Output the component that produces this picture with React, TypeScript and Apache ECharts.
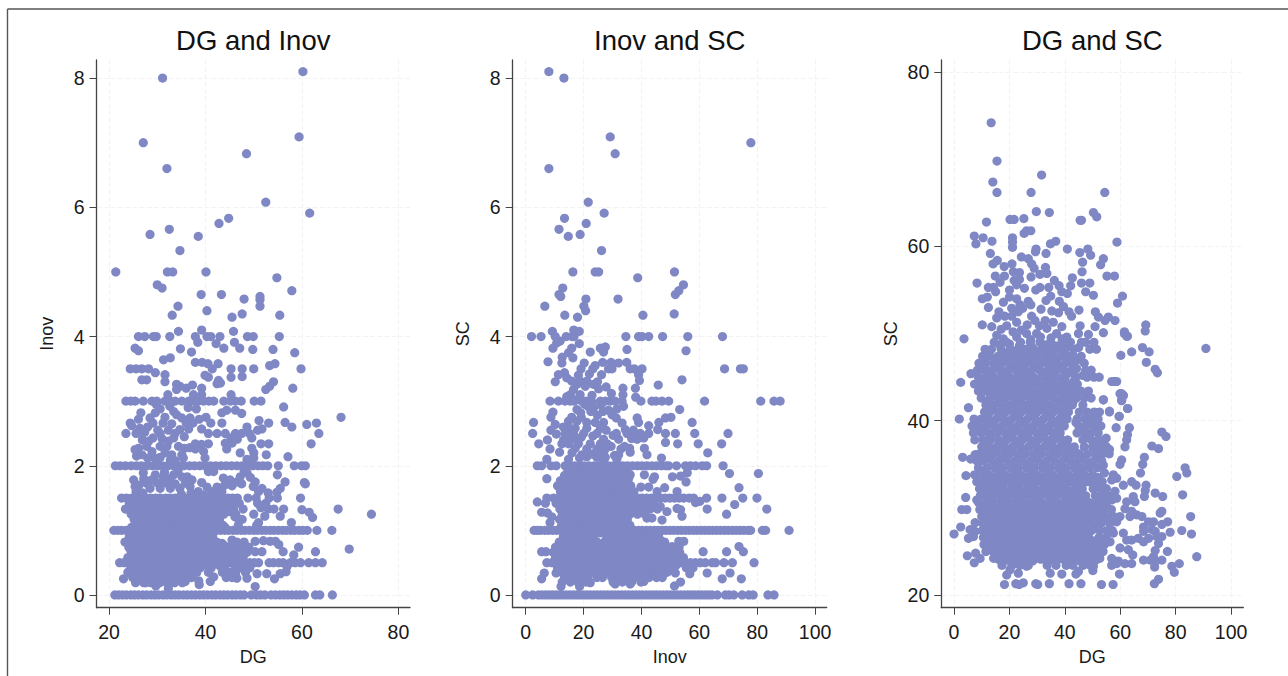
import React, { useEffect, useRef } from "react";
import * as echarts from "echarts";

type Pt = [number, number];
type Row = [number, number[]];

const titles = ["DG and Inov", "Inov and SC", "DG and SC"];
const xNames = ["DG", "Inov", "DG"];
const yNames = ["Inov", "SC", "SC"];
const dgTicks = [20, 40, 60, 80];
const pctTicks = [0, 20, 40, 60, 80, 100];
const lowYTicks = [0, 2, 4, 6, 8];
const scTicks = [20, 40, 60, 80];

const dgInovScattered: Pt[] = [
  [31.1,8],[60.2,8.1],[27.1,7],[59.4,7.09],[32,6.6],[48.5,6.83],[52.5,6.08],[61.6,5.91],[44.8,5.83],[42.8,5.75],[32.5,5.66],[28.5,5.58],[38.5,5.55],[34.7,5.33],[21.4,5],[32.1,5],[33.2,5],[40.1,5],[54.8,4.91],[57.9,4.71],[30,4.8],[31,4.75],[39.1,4.65],[43.3,4.65],[48,4.58],[51.3,4.62],[51.3,4.57],[51.3,4.47],[34.3,4.47],[33.1,4.33],[40.3,4.4],[45.5,4.3],[47.6,4.35],[55.4,4.33],[39.2,4.1],[34.4,4.08],[45.8,4.08],
  [25.4,3.82],[26.1,3.78],[34.8,3.81],[37.1,3.76],[38.4,3.91],[42.2,3.89],[43.8,3.82],[46,3.91],[47.1,3.82],[49.8,3.8],[54,3.8],[58.5,3.75],[31.3,3.64],[32.7,3.67],[37.9,3.6],[39.3,3.6],[40.5,3.58],[42.6,3.58],[53.3,3.55],[54.4,3.58],[29.6,3.44],[31.6,3.41],[39.9,3.4],[40.6,3.37],[45.3,3.37],[47.6,3.38],[26.8,3.33],[27.8,3.33],[31.6,3.3],[42.7,3.32],[42.4,3.27],[43.1,3.28],[54.1,3.3],[53.3,3.23],[52.5,3.18],[58.1,3.2],[34,3.26],[34.7,3.23],[36,3.2],[37.3,3.25],[39.2,3.2],[34,3.18],[32.2,3.1],[37.5,3.1],[39.2,3.1],[45.3,3.1],
  [38.1,2.88],[56.2,2.91],[30.6,2.88],[33.4,2.84],[29.6,2.82],[43.4,2.82],[44.4,2.86],[46.2,2.86],[47.5,2.81],[34,2.79],[28.5,2.74],[26.1,2.72],[35.1,2.74],[36.8,2.74],[38.7,2.72],[40.1,2.75],[68.1,2.75],[29.1,2.66],[31.2,2.66],[24.4,2.66],[36,2.66],[41.1,2.66],[43.4,2.66],[51.1,2.7],[53.1,2.66],[56.5,2.67],[57.9,2.6],[61,2.64],[63,2.66],[24.7,2.62],[26.4,2.58],[36.5,2.57],[39.2,2.57],[48.6,2.6],[51.7,2.57],[50.8,2.55],[32.3,2.55],[34.7,2.56],[29.1,2.43],[33.4,2.43],[45.3,2.43],[46.6,2.41],[49.6,2.43],[28.2,2.38],[32.3,2.38],[37.9,2.34],[39.2,2.33],[40.6,2.34],[44.1,2.35],[45.5,2.35],[51.5,2.34],[53.1,2.34],[61.9,2.34],[26.1,2.27],[27.8,2.3],[30.6,2.3],[32,2.3],[35.6,2.27],[37.9,2.26],[44.4,2.26],[49.6,2.27],[28.9,2.22],[31.6,2.2],[33,2.17],[35.1,2.17],[39.6,2.22],[47.2,2.2],[50,2.2],[52.6,2.17],[25.7,2.15],[26.8,2.17],[29.1,2.14],[30.6,2.13],[39.9,2.12],[57.1,2.14],[48.6,2.1],[50,2.12],[35.4,2.12],[32.7,2.09],[29.9,2.07],
  [40.6,1.91],[41.7,1.91],[54.9,1.86],[25.1,1.78],[27.1,1.89],[29.6,1.86],[31.3,1.83],[33.4,1.86],[35.1,1.83],[48.6,1.89],[47.2,1.83],[43.7,1.81],[45.1,1.78],[46.5,1.75],[50.3,1.75],[56.5,1.75],[60.5,1.74],[60.7,1.72],[39.2,1.74],[27.8,1.73],[29.9,1.74],[32,1.73],[33.7,1.72],[35.8,1.73],[45.5,1.69],[49.9,1.68],[51.7,1.65],[55.5,1.65],[28.5,1.65],[30.6,1.65],[32.7,1.65],[34.7,1.65],[36.8,1.68],[40.3,1.67],[42.4,1.67],[54.8,1.59],[51,1.6],[53,1.58],[38.5,1.6],[41.2,1.6],[43.4,1.6],[25.6,1.6],[27,1.58],
  [67.5,1.33],[74.4,1.25],[60,1.32],[61.5,1.28],[62.2,1.2],[56.2,1.33],[55.5,1.22],[57.8,1.12],[51.5,1.35],[53,1.33],[54.2,1.33],[50,1.25],[52.3,1.22],[51,1.12],[47.8,1.33],
  [50.3,0.83],[52,0.84],[53.4,0.83],[54.5,0.83],[55.2,0.78],[56.1,0.67],[45.5,0.85],[43.4,0.8],[59.3,0.74],[58.3,0.62],[62.8,0.67],[69.8,0.71],[51.7,0.67],[50.3,0.67],[50.7,0.33],[52.7,0.33],[54.3,0.25],[55.5,0.33],[56.7,0.36],[56.9,0.44],[50.3,0.13],[38.7,0.16],[35.8,0.21],[32.3,0.1],[29.7,0.14],[23,0.25],[41,0.21],[41.7,0.28],[48.6,0.26],[46.5,0.26],[38.6,0.22],[32.4,0.17],[27.6,0.19],
];
const dgInovExtra: Pt[] = [
  [25.4,2.25],[26.9,2.4],[27.4,2.52],[28,2.6],[30.1,2.55],[29.8,2.95],[31.6,2.75],[32.6,2.92],[33,2.65],[35.6,2.45],[34.4,2.3],[36.4,2.9],[37.4,2.66],[26.6,2.82],[36.7,2.28],[31,2.42],[28,2.12],[33.7,2.08],[27.2,1.8],[28.8,1.78],[30.8,1.74],[31.5,1.9],[32.6,1.8],[34.3,1.92],[36.2,1.83],[37.2,1.78],[26.2,1.7],[25.4,1.68],[44,1.7],[47.5,1.72],[48,1.92],[49.3,1.82],[39.5,1.55],[42,1.55],[44,1.4],[35.4,1.38],[35,1.56],[37,1.58],
  [24.9,1.46],[26.7,1.46],[28.3,1.46],[30,1.45],[31.6,1.46],[33.3,1.46],[35.1,1.45],[37.3,1.46],[39,1.46],[40.6,1.46],[42.4,1.46],[25.7,1.38],[27.4,1.38],[29.1,1.38],[30.7,1.37],[32.4,1.38],[34,1.38],[37,1.37],[38.6,1.38],[40.3,1.38],[42,1.37],[43.5,1.38],[24.5,1.29],[26.2,1.29],[27.9,1.29],[29.5,1.29],[31.2,1.28],[32.8,1.29],[34.5,1.29],[36.2,1.29],[37.8,1.28],[39.5,1.29],[41.2,1.29],[43,1.29],[45,1.29],[25.4,1.21],[27.1,1.21],[28.8,1.21],[30.4,1.2],[32,1.21],[33.8,1.21],[35.4,1.21],[37.1,1.21],[38.7,1.2],[40.4,1.21],[42,1.21],[46.1,1.21],[26.2,1.12],[27.9,1.12],[29.6,1.13],[31.3,1.12],[33,1.12],[34.6,1.13],[36.3,1.12],[38,1.12],[39.9,1.12],[42.6,1.12],[24.7,1.05],[26.6,1.05],[28.3,1.05],[30,1.05],[31.9,1.05],[34.3,1.05],[36,1.05],[37.6,1.05],[40.5,1.05],[44,1.05],
  [25,0.95],[26.7,0.95],[28.5,0.95],[30.2,0.94],[31.2,0.95],[33,0.95],[34.7,0.95],[36.4,0.94],[38,0.95],[39.2,0.95],[24.4,0.86],[26,0.86],[27.7,0.87],[29.3,0.86],[31,0.86],[32.6,0.86],[34.2,0.87],[35.9,0.86],[37.5,0.86],[39.3,0.86],[41.2,0.86],[24.9,0.78],[26.6,0.78],[28.2,0.78],[29.9,0.78],[31.6,0.77],[33.2,0.78],[34.9,0.78],[36.6,0.78],[38.2,0.78],[39.9,0.78],[41.5,0.77],[44,0.76],[47,0.78],[24.5,0.7],[26.1,0.7],[27.8,0.7],[29.5,0.7],[31.2,0.7],[32.9,0.7],[34.6,0.7],[36.2,0.7],[37.9,0.7],[39.5,0.7],[41.2,0.7],[42.9,0.7],[44.5,0.7],[46,0.7],[48,0.7],[25.2,0.62],[26.9,0.62],[28.6,0.62],[30.2,0.62],[31.9,0.62],[33.6,0.62],[35.2,0.62],[36.9,0.62],[38.5,0.62],[40.2,0.62],[41.9,0.62],[43.5,0.62],[45.2,0.62],[46.9,0.62],[24.8,0.54],[26.5,0.54],[28.1,0.54],[29.8,0.54],[31.5,0.54],[33.2,0.54],[34.8,0.54],[36.5,0.54],[38.1,0.54],[39.8,0.54],[41.5,0.54],[43.2,0.54],[45,0.54],[46.9,0.54],[25.2,0.46],[26.9,0.46],[28.5,0.46],[30.1,0.46],[31.8,0.46],[33.5,0.46],[35.2,0.46],[36.8,0.46],[38.5,0.46],[40.2,0.46],[43,0.45],[46,0.46],[25,0.38],[26.6,0.39],[28.2,0.38],[29.9,0.39],[31.5,0.38],[33.2,0.39],[34.8,0.38],[36.5,0.38],[38.2,0.38],[25.6,0.31],[27.2,0.31],[28.9,0.31],[30.6,0.31],[32.2,0.31],[33.8,0.31],[35.4,0.31],[37,0.32],[26.4,0.23],[28.1,0.24],[29.8,0.24],[31.4,0.23],[33,0.24],[34.6,0.23],
];
const dgInovRows: Row[] = [
  [4,[26.1,27.4,29.2,29.8,32.6,37.9,40.3,41.1,43,48.7,49.9,55.3]],
  [3.5,[24.4,25.6,26.8,28.2,41.4,45.3,47.6,50,59.8]],
  [3,[23.5,24.5,25.4,27.1,28.9,29.9,31.6,32.7,33.7,35.1,36.5,37.5,38.5,39.6,40.7,41.7,43.8,45.2,46.2,47.4,50.1,51.5]],
  [2.5,[23.5,25.6,26.8,30.6,33.7,40.6,42.4,44.1,46.2,47.5,49.1,63.5]],
  [2,[21.3,22.3,23.4,24.6,25.7,26.7,27.9,29,30.1,31.1,32.2,33.4,34.4,35.5,36.7,37.7,38.8,39.9,41,42.1,43.2,44.3,45.4,46.5,47.6,48.7,49.8,50.9,51.9,52.9,55.1,58.4,59.9,60.7]],
  [1.5,[22.6,23.6,24.7,25.6,26.6,27.7,28.6,29.7,30.6,31.8,32.7,33.7,34.8,35.6,36.7,37.8,38.7,39.8,40.7,41.7,42.8,43.7,44.7,45.6,46.6,48.8,50.5,53.2,54.9,59.7]],
  [1.42,[24.2,25.8,27.5,29,30.7,32.3,33.9,36.7,38.2,39.9,41.4,44,45.4,47,50.8,52.5]],
  [1.33,[23.4,25,26.6,28.2,29.8,31.4,33,34.6,36.2,37.8,39.4,41,42.6,44.2,45.8]],
  [1.25,[24.6,26.1,27.7,29.4,31,32.6,34.2,35.8,37.4,39,40.6,42.2,43.8,46.3]],
  [1.17,[25.2,26.9,28.5,30,33.1,34.7,36.4,38,39.6,41.2,42.9,46.9,47.6]],
  [1.08,[25.6,27.4,29.1,30.9,33.7,35.2,36.9,38.5,41.9,43.6,46.8,50.6]],
  [1,[21,21.8,22.6,23.5,24.4,25.2,26,26.9,27.7,28.6,29.5,30.3,31.1,32,32.9,33.7,34.5,35.4,36.3,37.1,38,38.8,39.7,40.5,41.4,42.3,43.1,44,44.8,45.7,46.5,47.4,48.2,49.1,50,50.8,51.7,52.5,53.4,54.2,55.1,56,56.8,57.7,58.5,59.4,60.2,61.1,63.1,66.2]],
  [0.9,[24.2,25.8,27.3,29.1,30.4,32,33.8,35.4,37,38.4,39.9,41.5]],
  [0.82,[23.3,24.9,26.5,28.1,29.7,31.3,32.8,34.4,36,37.6,39.2,40.7,42.3,46.5,48]],
  [0.74,[24.1,25.7,27.3,28.9,30.5,32.1,33.7,35.3,36.9,38.5,40.1,41.7,43.3,44.9,46.6,47.9,49]],
  [0.66,[24.6,26.2,27.8,29.4,31,32.6,34.2,35.8,37.4,39,40.6,42.2,43.8,45.4,47,48.6]],
  [0.58,[23.9,25.5,27.1,28.7,30.3,31.9,33.5,35.1,36.7,38.3,39.9,41.5,43.1,44.8,46.3,47.8]],
  [0.5,[22.2,23.1,24,24.9,25.8,26.7,27.6,28.5,29.4,30.3,31.2,32.1,33,33.9,34.8,35.7,36.6,37.5,38.4,39.3,40.2,41.1,42,42.9,43.8,44.7,45.6,46.5,47.4,48.3,49.2,50.1,51,53.2,54.1,55.2,56.1,57.6,58.6,59.7,61.4,62.8,64.2]],
  [0.42,[24.5,26.1,27.7,29.3,30.9,32.5,34.1,35.7,37.3,38.9,41.2,44,47.5,49.2]],
  [0.35,[23.9,25.4,27,28.6,30.2,31.8,33.4,35,36.6,38.2,40.6,43.5,45,46.3,48.3]],
  [0.27,[24.9,26.3,27.9,29.6,31,32.8,34.4,36,37.1,44.3,45.5]],
  [0.19,[25.5,27.2,28.7,30.5,32,33.6,35.2]],
  [0,[21.2,22,22.8,23.6,24.5,25.3,26.1,27,27.8,28.7,29.5,30.3,31.2,32,32.9,33.7,34.5,35.4,36.2,37.1,37.9,38.8,39.6,40.4,41.3,42.1,43,43.8,44.6,45.5,46.3,47.2,48,49.5,50.6,51.4,52.3,53.6,54.5,55.4,56.2,57,57.9,58.8,59.6,60.5,62.8,63.7,66.3]],
];

const inovScScattered: Pt[] = [
  [8,8.1],[13.2,8],[29.2,7.09],[77.8,7],[30.9,6.83],[8,6.6],[21.6,6.08],[27.1,5.91],[13.4,5.83],[20.9,5.75],[11.5,5.66],[14.7,5.55],[18.8,5.58],[26.2,5.33],[16.3,5],[24,5],[25.2,5],[51.4,5],[38.7,4.91],[54.5,4.8],[12.8,4.75],[52.9,4.71],[51.7,4.65],[11.5,4.65],[12.1,4.62],[20.8,4.58],[31.9,4.58],[6.6,4.47],[20.1,4.47],[20.7,4.4],[51.3,4.35],[13.5,4.33],[40.5,4.33],[17.9,4.3],[16.6,4.1],[9.2,4.08],[18.5,4.08],
  [10.7,3.9],[11.9,3.93],[9.4,3.82],[15.9,3.82],[18.5,3.89],[22.3,3.76],[25.8,3.82],[27.5,3.84],[26.9,3.76],[35,3.8],[55.4,3.78],[12.6,3.68],[16.3,3.67],[7.7,3.61],[12.5,3.59],[20.2,3.59],[26.6,3.6],[32.1,3.59],[34.9,3.6],[24,3.55],[11.3,3.41],[13.4,3.44],[18.2,3.4],[26.2,3.41],[39,3.41],[14.2,3.36],[10.2,3.3],[15.9,3.31],[18.8,3.31],[21.1,3.31],[39.3,3.32],[54,3.33],[17.7,3.26],[20.6,3.23],[23.4,3.26],[25.2,3.19],[27.8,3.22],[33.6,3.2],[37.9,3.2],[45.8,3.25],[16.5,3.18],[15.4,3.1],[14.2,3.07],[33.6,3.1],[22.9,3.09],
  [33.8,2.92],[23.4,2.89],[17.7,2.87],[53.2,2.87],[26.7,2.84],[28.6,2.86],[9.4,2.83],[22.5,2.84],[8.7,2.75],[15.9,2.75],[29.8,2.79],[38.5,2.74],[48.3,2.74],[50.2,2.75],[2.7,2.67],[57.5,2.67],[14.8,2.69],[17.7,2.69],[21.1,2.67],[24,2.67],[26.9,2.67],[31.3,2.74],[39,2.67],[46,2.67],[10.2,2.64],[42.5,2.62],[13,2.6],[17.1,2.58],[21.1,2.58],[25.8,2.58],[33.3,2.66],[8.7,2.55],[45.6,2.56],[34.4,2.56],
  [7.5,2.4],[17.1,2.41],[26.9,2.41],[32.1,2.41],[38.5,2.41],[40.8,2.43],[48.3,2.36],[4.5,2.34],[12.5,2.34],[14.8,2.34],[18.2,2.34],[22.3,2.34],[25.8,2.34],[28.1,2.34],[52.5,2.34],[59.6,2.34],[67.7,2.34],[8.4,2.26],[17.1,2.27],[21.1,2.26],[24.6,2.26],[27.5,2.26],[32.9,2.26],[35.9,2.27],[41,2.27],[11.7,2.21],[36.1,2.21],[26.9,2.2],[32.1,2.17],[41.9,2.17],[62.9,2.2],[19.4,2.17],[21.1,2.14],[24.6,2.13],[27.5,2.13],[7.3,2.1],[14.8,2.1],[46.9,2.12],[31.5,2.1],[26.9,2.09],
  [80.4,1.88],[70.4,1.88],[7.3,1.8],[41,1.86],[44.5,1.83],[44,1.79],[55.8,1.89],[50.7,1.83],[53.5,1.84],[29.8,1.89],[32.7,1.89],[36.1,1.86],[35.6,1.81],[16.5,1.89],[55.4,1.75],[73.7,1.66],[48,1.66],[39.8,1.67],[42.5,1.67],[52.3,1.6],[45.4,1.6],[11.3,1.68],
  [4,1.44],[58.7,1.43],[60.2,1.45],[72.2,1.4],[62.7,1.33],[83.3,1.33],[69.4,1.25],[53.5,1.32],[54,1.22],[46.5,1.37],[52.3,1.34],[48.8,1.29],[5.5,1.28],[7.5,1.27],[9,1.21],[8.4,1.12],[47.1,1.16],[41.9,1.19],[43.6,1.19],
  [54.6,0.83],[52.9,0.83],[50.6,0.75],[46.5,0.85],[5.5,0.67],[7,0.67],[61.3,0.67],[69.4,0.67],[73.7,0.75],[75.2,0.67],[6.4,0.34],[5.5,0.25],[10.5,0.34],[62.7,0.34],[56.7,0.33],[51.7,0.34],[70.6,0.34],[67.9,0.25],[74.5,0.25],[53.5,0.2],[51.4,0.14],[40.8,0.21],[36.1,0.17],[30.9,0.17],[22.3,0.19],[18.6,0.13],[12.2,0.13],
];
const inovScExtra: Pt[] = [
  [19,2.82],[20.4,2.95],[24.8,2.78],[26,2.94],[31.5,2.88],[27.8,2.55],[30.2,2.47],[23.2,2.46],[19.2,2.44],[15.6,2.46],[13.1,2.4],[10.6,2.49],[16,2.2],[18.6,2.12],[23,2.18],[29.5,2.3],[30.7,2.16],[34.2,2.3],[37.2,2.55],[36.6,2.42],[15.2,2.58],[19.2,2.75],[23,2.98],[21.5,2.92],[18.8,3.1],[17.4,3.02],[29.6,3.12],[24.8,3.3],[22,3.42],[29.5,3.6],[14.8,3.75],[38,3.06],
  [38.8,1.42],[40.5,1.3],[43,1.43],[36,0.95],[40,0.9],[47,0.78],[50,0.6],[52,0.46],[46,0.95],[48.8,0.7],[14.5,0.95],[20,0.96],[25.6,0.96],[31,0.95],
];
const inovScRows: Row[] = [
  [4,[2,5.3,10.2,14,16,16.7,34.6,39,40.2,42.5,47.3,56,68]],
  [3.5,[19.1,23.2,28.6,29.8,36.1,37.5,40.2,68.7,74.2,75.2]],
  [3,[8.4,11.3,13.6,15.4,16.7,19.4,20.9,25.8,27.5,29.2,30.9,33.3,39.8,43.6,45,47.1,49.4,61.8,81.2,85.8,87.9]],
  [2.5,[2.4,13.6,16.5,20,24.6,31.3,35,37.3,39.6,42.5,48.3,51.7,58.4,69.9]],
  [2,[4,5.5,8.7,10.5,13.6,15.3,16.9,18.6,20.2,21.9,23.6,25.2,26.9,28.6,30.3,31.9,33.6,35.2,36.9,38.6,40.2,41.9,43.6,45.2,46.9,48.5,49.4,52.1,55.2,56.9,58.7,61,62.5,68.2]],
  [1.93,[14.6,17.2,19.8,22.4,25,27.6,30,35]],
  [1.85,[13.4,16,18.6,21.2,23.8,26.4,29,31.6,34]],
  [1.77,[12,14.6,17.2,19.8,22.4,25,27.6,30.2,32.8,35.3]],
  [1.69,[11,13.3,15.9,18.5,21.1,23.7,26.3,28.9,31.5,34.1,36.3]],
  [1.6,[12,14.6,17.2,19.8,22.4,25,27.6,30.2,32.8,35.4,37.4]],
  [1.5,[7.3,9.6,11.5,13,14.6,16.2,17.8,19.4,21,22.6,24.2,25.8,27.4,29,30.6,32.2,33.8,35.4,37,38.6,40.2,41.8,43.4,45,46.6,48.2,49.8,51.4,53,54.6,56.5,58,62.5,67.8,75,79.9]],
  [1.42,[6.8,10.5,13,15.6,18.2,20.8,23.4,26,28.6,31.2,33.8,36.4,39,41.6,44.2]],
  [1.33,[11.8,14.4,17,19.6,22.2,24.8,27.4,30,32.6,35.2,37.8,40.4,43,45.5]],
  [1.25,[12.6,15.2,17.8,20.4,23,25.6,28.2,30.8,33.4,36,38.6,41.2]],
  [1.17,[11.7,14.3,16.9,19.5,22.1,24.7,27.3,29.9,32.5,35.1]],
  [1.08,[12.4,15,17.6,20.2,22.8,25.4,28,30.6,33.2,36]],
  [1,[2.9,4,5.2,6.6,7.9,9.3,10.6,12,13.3,14.7,16,17.4,18.7,20.1,21.4,22.8,24.1,25.5,26.8,28.2,29.5,30.9,32.2,33.6,34.9,36.3,37.6,39,40.3,41.7,43,44.4,45.7,47.1,48.4,49.8,51.1,52.5,53.8,55.2,56.5,57.9,59.2,60.6,61.9,63.3,64.6,66,67.3,68.7,70,71.4,72.7,74.1,75.4,76.8,77.7,81.8,82.9,91]],
  [0.9,[13,15.6,18.2,21,23.4,28,31,33.2,36,38.6,42,44.5]],
  [0.82,[11.6,14.2,16.8,19.4,22,24.6,27.2,29.8,32.4,35,37.6,40.2,42.8,45.6,48]],
  [0.74,[10.3,12.9,15.5,18.1,20.7,23.3,25.9,28.5,31.1,33.7,36.3,38.9,41.5,44.1,46.7,49.3,53]],
  [0.66,[9.5,11.6,14.2,16.8,19.4,22,24.6,27.2,29.8,32.4,35,37.6,40.2,42.8,45.4,48,50.6,53.2]],
  [0.58,[10.3,12.9,15.5,18.1,20.7,23.3,25.9,28.5,31.1,33.7,36.3,38.9,41.5,44.1,46.7,49.3,51.9,54.5]],
  [0.5,[7.3,9,10.8,12.4,14,15.7,17.3,19,20.6,22.3,23.9,25.6,27.2,28.9,30.5,32.2,33.8,35.5,37.1,38.8,40.4,42.1,43.7,45.4,47,48.7,50.3,52,53.6,55.3,56.9,58.6,60.3,62,64.4,65.6,68.5,71.4,78.9]],
  [0.42,[11,13.4,16,18.6,21.2,23.8,26.4,29,31.6,34.2,36.8,39.4,42,44.6,47.2,49.8,55.5,57.8]],
  [0.35,[12.4,15,17.6,20.2,22.8,25.4,28,30.6,33.2,35.8,38.4,41,43.6,46.2,48.8]],
  [0.27,[13.4,16,18.6,21.4,24.6,26.5,29.7,32.1,34.7,37.4,40,42.6,45.2,47.2]],
  [0.2,[12.6,15.4,18,20.8,30.2,33.4,36.6,39.8]],
  [0,[0,2.4,4.4,5.6,6.8,8,9.2,10.4,11.6,12.8,14,15.2,16.4,17.6,18.8,20,21.2,22.4,23.6,24.8,26,27.2,28.4,29.6,30.8,32,33.2,34.4,35.6,36.8,38,39.2,40.4,41.6,42.8,44,45.2,46.4,47.6,48.8,50,51.2,52.4,53.6,54.8,56,57.2,58.4,59.6,60.8,62,63.2,64.4,66.2,69,70.3,71.9,74.8,77.1,78.6,83.7,85.8]],
];

const dgScScattered: Pt[] = [
  [13.4,74.2],[15.5,69.8],[14,67.4],[15.5,66.2],[31.6,68.2],[27.8,66.2],[54.4,66.2],[29.7,64],[34.4,63.9],[50.3,63.9],[51.5,63.4],[46,63],[45.5,63],[20.2,63.1],[21.7,63.1],[25.2,63.2],[11.7,62.8],[26.2,61.8],[27.7,61.8],[25.3,61.5],[7.3,61.2],[10.5,61],[7.9,60.3],[13.7,60.6],[21.1,61],[21.1,60.5],[21.1,59.9],[58.8,60.5],[36.7,60.6],[34.8,60.3],[29.6,59.7],[29.4,59.4],[40.9,59.7],[48.3,59.7],[45.4,59.3],[49.3,59],[33.2,59.2],[13.1,59.2],[24.3,58.8],[26.8,58.6],[15.6,58.4],[14.1,58],[20.9,58],[53.9,58.6],[46.4,58.2],[52.9,57.9],[28,58],[18.1,57.7],[28.9,57.5],[33,57.6],[46.2,57.1],[21.4,57.1],[23.6,57],[31,56.8],[33.5,56.9],[14.9,56.6],[18.2,56.6],[27.8,56.5],[55.2,56.6],[57.9,56.6],[42.7,56.4],[21.7,56.1],[23.6,56.2],[36.2,56.1],[8.3,55.8],[16.6,55.9],[46,55.8],[49,55.8],[22.6,55.6],[12.4,55.3],[14.2,55.3],[31,55.3],[34.2,55.3],[37.9,55.5],[42.1,55.5],[25.4,55.2],[29.5,55],[15,54.8],[20,55],[38.9,54.8],[40.9,54.6],[47.5,54.8],[50.3,54.4],[60.8,54.3],[34.9,54.3],[33.2,53.8],[10.2,54],[12,54.2],[20,54.2],[22.6,54],[59,53.5],[17.8,53.6],[26.8,53.7],[27.7,53.3],[38,53.7],[12.4,53],[23.8,53.3],[20.8,52.9],[31.4,52.8],[39.5,53.1],[45.1,52.7],[16.2,52.5],[23.2,52.5],[35.3,52.6],[37.7,52.4],[41.5,52.5],[51,52.5],[42.4,52],[28,52],[20.8,52],[15.4,51.8],[55.7,51.9],[52.1,51.9],[54.5,51.5],[58.1,51.5],[29.2,51.5],[32.9,51.5],[22.6,51.3],[10.2,51],[69.2,51],[45.5,50.9],[50.9,50.8],[38.9,50.8],[13.6,50.8],[19,50.9],[69,50.3],[53.9,50.1],[44.9,50],[48.5,49.9],[61.5,50],[62.3,49.7],[3.6,49.4],[15.4,49.8],[26.2,50],[29.8,50],[33.5,50.6],[37,50],[40.7,49.6],[17.8,49.4],[22.6,49.6],
  [90.9,48.3],[68,48.4],[70.4,47.9],[64.1,47.9],[60.2,47.5],[69.4,46.7],[72.6,45.9],[73.4,45.5],[57.8,44.5],[58.7,44.5],[60.5,43.1],[61.1,42.9],[60.5,42.3],[62.6,41.4],[53.9,42.4],[56.1,41],[59.6,40.5],[61.5,50.2],[62.6,49.7],[2.4,44.4],[5.2,41.5],[1.9,40.2],[0,27],[2.4,27.8],[2.8,29.8],[4.6,29.8],[4.2,31.2],[8.2,30.9],[4.3,33.7],[3.1,35.8],[6,35.6],[7.6,36.1],[6.1,45.4],[7.6,28.3],[5.8,27.5],[5.2,26.5],[7.6,27.3],[7,26.7],[4.8,24.5],[7.8,24.8],[9.4,24.2],[7.3,23.7],
  [18.2,21.2],[22.3,21.3],[23.5,21.2],[25,21.4],[29.5,21.3],[30.2,21.2],[34.4,21.3],[41.5,21.3],[45.8,21.3],[53.2,21.2],[57.4,21.2],[72.3,21.3],[73.8,21.8],[79.5,22.6],[78.6,23.3],[81.3,23.6],[72.4,23.2],[87.6,24.4],[77,25],[82.2,27.4],[85.7,27],[85.4,29],[83.4,34.6],[84,34],[80.4,33.6],[82.5,31.5],
  [75,38.7],[76.5,38.2],[71.4,37.1],[73.8,36.8],[68.7,35.8],[68.1,35],[67.3,34],[63.3,39.2],[62.6,38.4],[62.3,37.8],[61.7,37],[60.5,35.5],[59.9,35],[57.5,33.8],[58.7,33.4],[56.9,33.2],[64.1,33],[65.7,32.6],[61.1,32.6],[69.3,32.6],[69,32],[68.7,31.3],[72.6,31.7],[75.3,31.3],[58.1,31.9],[58.7,31.1],[56.9,30.9],[64.7,31.3],[62.3,30.7],[65.3,30.7],[75,29.6],[74.4,29.4],[61.7,29.9],[64.1,29.6],[63.5,29],[65.9,29.2],[67.8,29],[59.9,29],[58.7,28.4],[68.4,27.8],[70.2,28.4],[72,28.4],[77.1,28.4],[75,28.1],[71.4,27.5],[72.6,27.3],[78,27.2],[68.4,27.3],[61.1,27.1],[57.5,27.1],[75,26.7],[73.2,26.7],[70.2,26.5],[66.5,26.5],[68.4,26.1],[62.3,26.3],[64.1,26.3],[56.3,26.1],[73.8,25.9],[59.9,25.4],[62.9,25.2],[72.6,25.1],[64.5,24.6],[72,24.4],[68.4,24],[70.8,24],[75,24],[72.6,23.8],[56.9,24.2],[59.3,23.9],[61.7,23.6],[64.1,23.6],[56.9,23.4],[58.7,23.6],[59.7,22.4],[50.3,23.3],[50.1,22.8],[44.9,22.7],[44,22.4],[38.9,22.4],[34.7,22.5],[19,22.3],[20.2,22.9],[23.2,22.5],[26.2,23.3],
  [53.9,42.4],[56.1,41.1],[59.6,40.5],[62.7,41.4],[60.5,42.4],[59.9,43.1],[61.1,42.9],[58.1,44.5],[56.9,44.5],[58.5,39.2],[54.9,38],[56.1,36.7],[53.9,34.9],[54.3,34],
];
const dgScExtra: Pt[] = [
  [18.3,52],[24.8,52.9],[26.4,51],[30.8,50.9],[35.8,51.3],[17,50.5],[21.3,50.2],[24.3,50.4],[27.7,49.3],[31.2,49.6],[35,49.5],[39,49.4],[16.5,48.7],[20,48.8],[23.6,48.6],[28,48.5],[32.8,48.7],[36.6,48.6],[41.5,48.6],[45,48.4],[12.5,47.9],[17.6,47.8],[22.4,47.7],[26.3,47.6],[29.8,47.8],[35.1,47.9],[39.4,47.7],[42.9,47.5],[15,46.9],[19.1,47],[24.1,46.9],[27.5,46.8],[33.2,46.8],[36.2,47],[41.7,46.8],[45.2,47],[11,46.2],[16.4,46.1],[21.4,46.2],[25,46.1],[30.3,46.2],[35.4,46.2],[38.3,46.1],[44.2,46],[12.5,45.4],[18.2,45.4],[24,45.4],[27,45.3],[32.8,45.3],[36.1,45.4],[41.7,45.5],[46.5,45.2],[9.5,44.6],[15,44.6],[20.2,44.7],[25.7,44.6],[29.5,44.7],[34.5,44.6],[39.8,44.6],[43.4,44.6],[12,43.8],[17.4,43.8],[22.1,43.9],[26.4,43.8],[32.7,43.8],[37.1,43.8],[41.6,43.8],[14.2,43],[19.6,43],[25,43],[30.2,43.1],[34.4,43],[39.9,43],[43,42.2],[11.8,42.2],[16.8,42.2],[23,42.2],[28.6,42.3],[32.5,42.2],[37.5,42.2],[41,42.3],
  [14,41.3],[20,41.4],[26,41.4],[31.4,41.4],[36.5,41.5],[11.5,40.6],[17,40.6],[22.5,40.6],[28,40.7],[33.6,40.6],[39.5,40.6],[44,39.8],[49,39.8],[13.2,39.8],[18.9,39.8],[24.7,39.8],[30.3,39.9],[35.8,39.8],[46,39],[51.6,39],[10.3,39],[16,39],[21.5,39],[27.4,39],[33,39.1],[37.9,39],[48,38.2],[13,38.2],[19.2,38.2],[24.8,38.2],[30.4,38.3],[36,38.2],[51,37.4],[11,37.4],[16.7,37.4],[22.5,37.4],[28,37.4],[33.8,37.5],[39.4,37.4],[13.6,36.6],[20,36.6],[25.5,36.6],[31,36.7],[37,36.6],[43.4,36.6],[12,35.8],[17.5,35.8],[23.3,35.8],[29,35.9],[34.8,35.8],[40.4,35.8],[46.2,35.8],[52,35.7],[15.2,35],[21,35],[26.5,35],[32.4,35.1],[38,35],[44,35],[49.4,35],[10.4,34.2],[17,34.2],[22.8,34.2],[28.6,34.3],[34.3,34.2],[40,34.2],[46,34.2],[13.6,33.4],[19.5,33.4],[25,33.4],[31,33.5],[36.4,33.4],[42.5,33.4],[48,33.4],[51.8,33.5],
  [11.4,32.6],[17,32.6],[23,32.6],[28.8,32.7],[34.7,32.6],[40.2,32.6],[46,32.6],[51,32.6],[14,31.8],[20,31.8],[25.9,31.8],[31.4,31.9],[37.3,31.8],[43,31.8],[12,31],[17.5,31],[23.2,31],[29.2,31.1],[35,31],[40.6,31],[46.4,31],[52.2,31],[14.6,30.2],[20.6,30.2],[26.2,30.2],[32,30.3],[38,30.2],[43.6,30.2],[49.2,30.2],[55,30.2],[12.4,29.4],[18.1,29.4],[24,29.4],[29.7,29.5],[35.5,29.4],[41.2,29.4],[47,29.4],[52.6,29.4],[14.8,28.6],[20.5,28.6],[26.2,28.6],[32,28.7],[37.7,28.6],[43.5,28.6],[49.1,28.6],[54.7,28.6],[12.7,27.8],[18.5,27.8],[24.2,27.8],[30,27.9],[35.8,27.8],[41.5,27.8],[47.1,27.8],[15,27],[20.7,27],[26.5,27],[32.2,27.1],[38,27],[43.7,27],[48.5,27],[13,26.2],[18.8,26.2],[24.5,26.2],[30.3,26.3],[36,26.2],[41.7,26.2],[47.5,26.2],[51,26.2],[15.3,25.4],[21,25.4],[26.8,25.4],[32.5,25.5],[38.3,25.4],[44,25.4],[49.8,25.4],[18.5,24.6],[24.3,24.6],[30,24.7],[35.8,24.6],[41.5,24.6],[47.2,24.6],[51.8,24.6],
  [10.9,33],[13.7,32.8],[16.3,33.2],[19,33],[21.6,32.9],[24.6,33],[27.3,32.8],[30,33.1],[33,33],[35.6,32.9],[38.4,33],[41.2,33],[44,32.9],[47,33.1],[50,33],[11,31.7],[13.5,31.8],[16.2,31.7],[18.9,31.6],[21.7,31.8],[24.4,31.7],[27.2,31.6],[30,31.8],[32.8,31.7],[35.6,31.7],[38.4,31.7],[41,31.8],[46,31.7],[10.7,30.3],[13.4,30.1],[16.2,30.3],[19,30.2],[21.9,30.1],[24.8,30.2],[27.6,30.3],[30.5,30.1],[33.3,30.2],[36.3,30.2],[39.1,30.1],[42,30.3],[44.9,30.2],[47.7,30.1],[50.6,30.3],[53.3,30.2],[11.6,28.9],[14,28.9],[16.7,28.7],[19.5,28.9],[22.4,28.8],[25.2,28.9],[28,28.7],[31,28.9],[33.8,28.8],[36.6,28.9],[39.4,28.8],[42.3,28.9],[45.2,28.7],[48,28.9],[50.9,28.8],[53.6,28.9],[11.4,27.6],[14,27.5],[16.8,27.6],[19.6,27.7],[22.6,27.5],[25.4,27.6],[28.2,27.7],[31,27.5],[33.8,27.6],[36.7,27.7],[39.6,27.5],[42.4,27.6],[45.2,27.7],[48,27.5],[50.8,27.6],[12,26.4],[14.8,26.3],[17.5,26.4],[20.3,26.2],[23.2,26.4],[26,26.3],[29,26.4],[31.8,26.2],[34.6,26.4],[37.5,26.3],[40.4,26.2],[43.2,26.4],[46.1,26.3],[49,26.4],[12.3,25.2],[15,25],[18,25.2],[20.6,25.1],[23.6,25.2],[26.4,25],[29.3,25.2],[32,25.1],[35,25.2],[37.8,25],[40.7,25.2],[43.5,25.1],[46.4,25],[49.3,25.2],[16,24.1],[19.2,24],[22.2,23.9],[25.5,24],[28.4,23.9],[31.3,24.1],[34,23.9],[37,24],[39.9,24],[42.8,24],[45.6,23.9],[48.4,24],[51.2,24],
];
const dgScRows: Row[] = [
  [49,[14.5,19,24,27.5,31,34.8,39,42,46,47.5,50.5]],
  [48.2,[11.2,13.5,17,20.3,23.1,25.9,28.8,31.7,34.6,37.5,40.2,43.2,49,51.4]],
  [47.4,[10.3,13,15.9,18.8,21.6,24.4,27.3,30.2,33,35.8,38.7,41.5,45.9]],
  [46.6,[9,11.5,14.4,17.3,20.2,23,25.9,28.8,31.6,34.5,37.3,40.2,43,47]],
  [45.8,[8.4,10.9,13.7,16.6,19.4,22.3,25.1,28,30.9,33.7,36.6,39.4,42.3,47.5,49.5]],
  [45,[8.8,11.6,14.5,17.3,20.2,23,25.9,28.7,31.6,34.4,37.3,40.1,44,48,50.5,52.4]],
  [44.2,[7.4,10.2,13,15.9,18.7,21.6,24.4,27.3,30.1,33,35.8,38.7,41.5,44.5]],
  [43.4,[8.8,11.6,14.5,17.3,20.2,23,25.9,28.7,31.6,34.4,37.3,40.1,43,45.8,48.5]],
  [42.6,[9.8,13,15.9,18.7,21.6,24.4,27.3,30.1,33,35.8,38.7,41.5,44.2,47,49.5]],
  [41.8,[11.5,14.5,17.3,20.2,23,25.9,28.7,31.6,34.4,37.3,40.1,42.7,46.5]],
  [41,[11,13,15.9,18.7,21.6,24.4,27.3,30.1,33,35.8,38.7,41.3,45.2,48,50.6,52.5]],
  [40.2,[7.2,9.8,12.4,15.2,18,20.9,23.7,26.6,29.4,32.3,35.1,38,40.8,44.4,47.2,49.8,52]],
  [39.4,[6.5,8.8,11.6,14.5,17.3,20.2,23,25.9,28.7,31.6,34.4,37.3,39.8,45,47.6,50.5,53]],
  [38.6,[7,9.8,12.7,15.5,18.4,21.2,24.1,26.9,29.8,32.6,35.5,38.3,44.4,47,49.5,52]],
  [37.8,[7.5,10.5,13.3,16.2,19,21.9,24.7,27.6,30.4,33.3,36.1,39,41,46.5,49.5,52,54.2]],
  [37,[10,12.6,15.5,18.3,21.2,24,26.9,29.7,32.6,35.4,38.3,41.1,43.4,47,50,52.6,55]],
  [36.2,[9.2,11.6,14.4,17.3,20.1,23,25.8,28.7,31.5,34.4,37.2,40.1,42.9,45.2,48.2,51,53.6,56]],
  [35.4,[8.2,10.6,13.4,16.3,19.1,22,24.8,27.7,30.5,33.4,36.2,39.1,41.9,44.8,47.6,50.5,53.3]],
  [34.6,[8.8,11.9,14.8,17.6,20.5,23.3,26.2,29,31.9,34.7,37.6,40.4,43.3,46.1,49,51.8]],
  [33.8,[7.4,10,12.9,15.8,18.6,21.5,24.3,27.2,30,32.9,35.7,38.6,41.4,44.3,47.1,50]],
  [33,[8.2,11.3,14.2,17,19.9,22.7,25.6,28.4,31.3,34.1,37,39.8,42.7,45.5,48.4,51.2,53.5]],
  [32.2,[9.2,12.1,15,17.8,20.7,23.5,26.4,29.2,32.1,34.9,37.8,40.6,43.5,46.3,50.2,53,55]],
  [31.4,[9.5,11.2,14.1,16.9,19.8,22.6,25.5,28.3,31.2,34,36.9,39.7,42.6,44.3,47.5,51,53.4,55.8]],
  [30.6,[8.9,12,14.9,17.7,20.6,23.4,26.3,29.1,32,34.8,37.7,40.5,43.4,46.2,49,51.8,54.6]],
  [29.8,[9.3,11.3,14.2,17,19.9,22.7,25.6,28.4,31.3,34.1,37,39.8,42.7,45.5,48.4,51.2,54,56.8]],
  [29,[10,12.4,15.3,18.1,21,23.8,26.7,29.5,32.4,35.2,38.1,40.9,43.8,46.6,49.5,52.3,55,57.6]],
  [28.2,[10.4,13.2,16.1,18.9,21.8,24.6,27.5,30.3,33.2,36,38.9,41.7,44.6,47.4,50.3,53.1,56.2]],
  [27.4,[10.2,12.3,15.2,18,20.9,23.7,26.6,29.4,32.3,35.1,38,40.8,43.7,46.5,49.6,52.6,55.2,57.1]],
  [26.6,[10.6,13.4,16.3,19.1,22,24.8,27.7,30.5,33.4,36.2,39.1,41.9,44.8,47.6,52.3,54.8]],
  [25.8,[10.8,12.7,15.6,18.4,21.3,24.1,27,29.8,32.7,35.5,38.4,41.2,44.1,46.9,49.8,52,54.3]],
  [25,[11.5,14.1,17,19.8,22.7,25.5,28.4,31.2,34.1,36.9,39.8,42.6,45.5,48.3,51.2,53.8]],
  [24.2,[14.3,17.6,21.3,24.1,27,29.8,32.7,35.5,38.4,41.2,44.1,46.9,49.8,52.6]],
  [23.4,[17.3,20.9,23.8,26.8,33.6,36.8,40.5,42.9,46.6,49.2]],
];

const expand = (rows: Row[]): Pt[] => rows.flatMap(([y, xs]) => xs.map((x): Pt => [x, y]));

const dotColor = "#7f88c4";
const inkColor = "#1a1a1a";
const axisColor = "#444444";
const gridColor = "#f3f3f3";

const axis = (
  type: "x" | "y",
  name: string,
  min: number,
  max: number,
  ticks: number[],
  gridIndex: number,
) => ({
  type: "value",
  gridIndex,
  name,
  nameLocation: "middle",
  nameGap: type === "x" ? 40 : 41,
  nameTextStyle: { fontFamily: "Liberation Sans", fontSize: 18, color: inkColor },
  min,
  max,
  axisLine: { show: true, onZero: false, lineStyle: { color: axisColor, width: 1.3 } },
  axisTick: { show: true, length: 7, customValues: ticks, lineStyle: { color: axisColor, width: 1 } },
  axisLabel: {
    show: true,
    margin: type === "x" ? 14 : 12,
    customValues: ticks,
    fontFamily: "Liberation Sans",
    fontSize: 19.5,
    color: inkColor,
  },
  splitLine: { show: true, customValues: ticks, lineStyle: { color: gridColor, type: "dashed", width: 1.2 } },
});

export default function App() {
  const ref = useRef<HTMLDivElement>(null);
  useEffect(() => {
    const chart = echarts.init(ref.current!, null, { renderer: "svg" });
    const grids = [
      { left: 96.5, top: 60, width: 313.5, height: 547.7 },
      { left: 512.7, top: 60, width: 314, height: 547.7 },
      { left: 941.3, top: 60, width: 302, height: 547.7 },
    ];
    const datasets: Pt[][] = [
      [...dgInovScattered, ...dgInovExtra, ...expand(dgInovRows)],
      [...inovScScattered, ...inovScExtra, ...expand(inovScRows)],
      [...dgScScattered, ...dgScExtra, ...expand(dgScRows)],
    ];
    chart.setOption({
      animation: false,
      backgroundColor: "#ffffff",
      title: grids.map((g, i) => ({
        text: titles[i],
        left: g.left + g.width / 2,
        top: 26,
        padding: 0,
        textAlign: "center",
        textStyle: { fontFamily: "Liberation Sans", fontSize: 27.5, fontWeight: "normal", color: "#111111" },
      })),
      grid: grids,
      xAxis: [
        axis("x", xNames[0], 17.4, 82.4, dgTicks, 0),
        axis("x", xNames[1], -4.5, 104, pctTicks, 1),
        axis("x", xNames[2], -4.6, 104.4, pctTicks, 2),
      ],
      yAxis: [
        axis("y", yNames[0], -0.197, 8.28, lowYTicks, 0),
        axis("y", yNames[1], -0.197, 8.28, lowYTicks, 1),
        axis("y", yNames[2], 18.54, 81.4, scTicks, 2),
      ],
      series: datasets.map((data, i) => ({
        type: "scatter",
        xAxisIndex: i,
        yAxisIndex: i,
        data,
        symbol: "circle",
        symbolSize: 9.2,
        itemStyle: { color: dotColor, opacity: 1 },
        silent: true,
      })),
      graphic: [
        { type: "line", shape: { x1: 7.5, y1: 9, x2: 1288, y2: 9 }, style: { stroke: "#555555", lineWidth: 1.4 } },
        { type: "line", shape: { x1: 7.5, y1: 9, x2: 7.5, y2: 676 }, style: { stroke: "#555555", lineWidth: 1.4 } },
      ],
    });
    return () => chart.dispose();
  }, []);
  return <div ref={ref} style={{ position: "absolute", left: 0, top: 0, width: 1288, height: 676 }} />;
}
